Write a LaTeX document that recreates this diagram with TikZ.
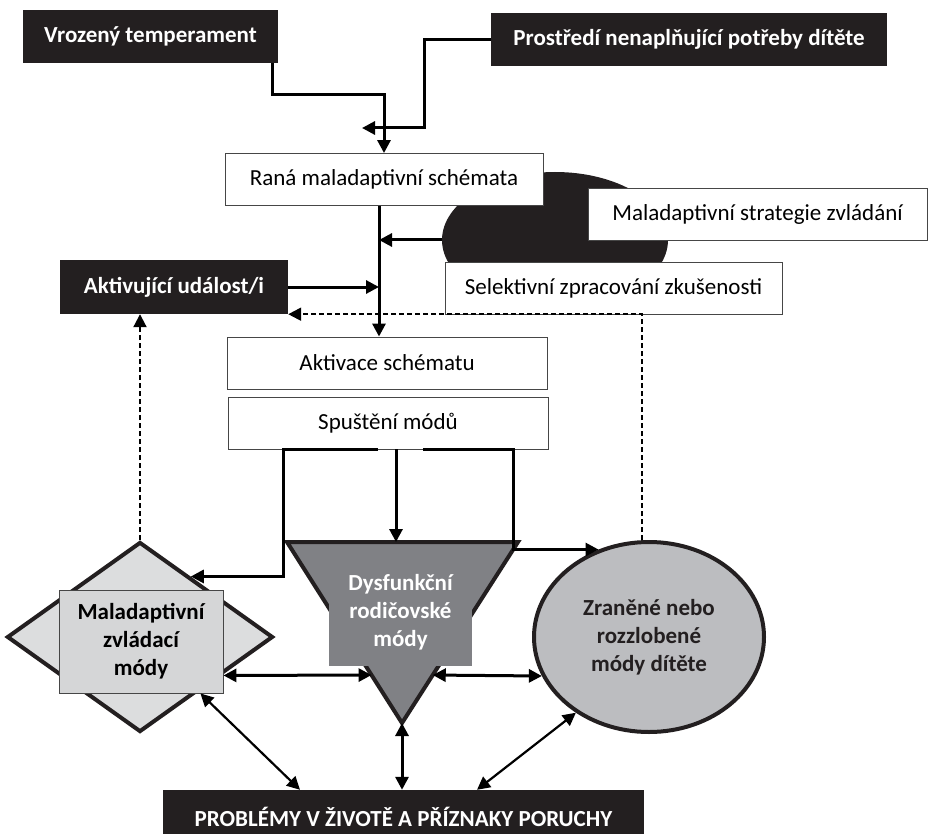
\documentclass[tikz,border=0pt]{standalone}
\usepackage{fontspec}
\setmainfont{Carlito}
\usetikzlibrary{arrows.meta,shapes.geometric,calc}

\definecolor{boxblack}{RGB}{35,31,32}
\definecolor{boxline}{RGB}{70,70,70}
\definecolor{parentgray}{RGB}{128,129,133}
\definecolor{childgray}{RGB}{188,189,192}
\definecolor{copegray}{RGB}{220,221,222}
\newcommand{\diagfont}{\fontsize{23}{28}\selectfont}

\tikzset{
  darkbox/.style={rectangle,fill=boxblack,text=white,font=\diagfont\bfseries,minimum height=53pt,inner sep=0pt},
  lightbox/.style={rectangle,draw=boxline,line width=0.9pt,fill=white,font=\diagfont,minimum height=52pt,inner sep=0pt},
  modeshape/.style={draw=boxblack,line width=4pt,inner sep=0pt},
  modetext/.style={font=\diagfont\bfseries,align=center},
  flow/.style={->,line width=3pt},
  feedback/.style={->,line width=2pt,dash pattern=on 5pt off 3pt},
  mutual/.style={<->,line width=2.2pt}
}

\begin{document}
\begin{tikzpicture}[x=1pt,y=-1pt,>={Triangle[length=13pt,width=13pt]}]
\useasboundingbox (0,0) rectangle (928,834);

% top of the chain
\node[darkbox,minimum width=255pt] (vroz) at (150.5,36.5) {Vrozený temperament};
\node[darkbox,minimum width=396pt] (prost) at (689,39.5) {Prostředí nenaplňující potřeby dítěte};
\node[ellipse,fill=boxblack,minimum width=226pt,minimum height=136pt] (blob) at (555,240) {};
\node[lightbox,minimum width=318pt] (rana) at (384,179.5) {Raná maladaptivní schémata};
\node[lightbox,minimum width=339pt] (strat) at (757.5,214) {Maladaptivní strategie zvládání};
\node[lightbox,minimum width=337pt] (selekt) at (613.5,288) {Selektivní zpracování zkušenosti};
\node[darkbox,minimum width=228pt,minimum height=54pt] (aktiv) at (174,287) {Aktivující událost/i};
\node[lightbox,minimum width=320pt] (aktivace) at (387,363) {Aktivace schématu};
\node[lightbox,minimum width=320pt] (spust) at (388,423) {Spuštění módů};

% the three modes
\node[diamond,modeshape,fill=copegray,minimum width=266pt,minimum height=190pt] (mala) at (140,637) {};
\node[rectangle,draw=boxline,line width=0.9pt,fill=copegray!97!black,modetext,minimum width=164pt,minimum height=103pt] (malabox) at (141,641.5) {Maladaptivní\\zvládací\\módy};
\coordinate (dl) at (287,542);
\coordinate (dr) at (518,542);
\coordinate (db) at (402,723);
\draw[modeshape,fill=parentgray,line join=miter] (dl) -- (dr) -- (db) -- cycle;
\node[rectangle,fill=parentgray,text=white,modetext,minimum width=143pt,minimum height=107pt] (dysf) at (400.5,612.5) {Dysfunkční\\rodičovské\\módy};
\node[ellipse,modeshape,fill=childgray,modetext,text=boxblack,minimum width=230pt,minimum height=190pt] (zran) at (649,637) {Zraněné nebo\\rozzlobené\\módy dítěte};
\node[darkbox,minimum width=481pt,minimum height=54pt] (probl) at (403.5,817) {PROBLÉMY V ŽIVOTĚ A PŘÍZNAKY PORUCHY};

% connectors
\coordinate (spine) at ([xshift=-5pt]rana.south);
\coordinate (merge) at (362,128);
\draw[flow] ([xshift=-6pt]vroz.south east) -- ++(0,31) -| (rana.north);
\draw[flow] (prost.west) -- ++(-66,0) |- (merge);
\draw[flow] (spine) -- (spine |- aktivace.north);
\draw[flow] (blob.west) -- (blob.west -| spine);
\draw[flow] (aktiv.east) -- (aktiv.east -| spine);
\draw[feedback] (zran.94) |- (aktiv.south east);
\draw[feedback] (mala.north) -- (mala.north |- aktiv.south);

\coordinate (tapL) at ([xshift=-10pt]spust.south);
\coordinate (turnL) at ([xshift=-105pt]spust.south);
\coordinate (tapM) at ([xshift=8pt]spust.south);
\coordinate (tapR) at ([xshift=35pt]spust.south);
\coordinate (turnR) at ([xshift=125pt]spust.south);
\draw[flow] (tapL) -- (turnL) |- (mala.50);
\draw[flow] (tapM) -- (tapM |- dl);
\draw[flow] (tapR) -- (turnR) |- (zran.120);

\draw[mutual,line width=3pt] ([yshift=18pt]malabox.south east) -- ($(dl)!.735!(db)$);
\draw[mutual,line width=3pt] ($(dr)!.735!(db)$) -- (zran.200);
\draw[mutual,line width=3pt] (db) -- (db |- probl.north);
\draw[mutual] ([xshift=-23pt]malabox.south east) -- ([xshift=-103.5pt]probl.north);
\draw[mutual] (zran.226) -- ([xshift=73.5pt]probl.north);

\end{tikzpicture}
\end{document}
